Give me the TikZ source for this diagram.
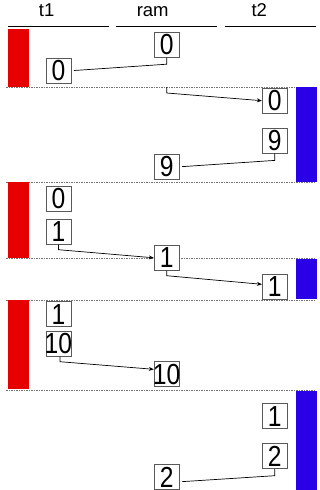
\documentclass[tikz,border=0pt]{standalone}
\usepackage{fontspec}
\setmainfont{Liberation Sans}
\usetikzlibrary{arrows.meta}
\definecolor{tred}{RGB}{230,0,0}
\definecolor{tblue}{RGB}{42,0,230}
\tikzset{
  box/.style={draw=black!65, line width=0.8pt, minimum width=25pt, minimum height=25pt,
    inner sep=0pt, fill=white, font=\fontsize{29}{29}\selectfont},
  head/.style={anchor=base, inner sep=0pt, font=\fontsize{18.5}{18.5}\selectfont},
  hline/.style={line width=1pt, black},
  sep/.style={draw=black!55, line width=0.5pt, dash pattern=on 1.5pt off 1pt},
  conn/.style={line width=0.7pt, black},
  arr/.style={conn, -{Stealth[length=5pt,width=4pt]}},
  back/.style={conn, shorten >=2.5pt},
}
\newcommand{\bx}[1]{\makebox[0pt][c]{\raisebox{-1.2pt}{\scalebox{0.85}[1]{#1}}}}
\begin{document}
\begin{tikzpicture}[x=1pt,y=-1pt]
\useasboundingbox (0,0) rectangle (320,490);
% headers
\node[head] (ht1) at (46.7,16.7) {t1};
\node[head] (hram) at (152.7,16.7) {ram};
\node[head] (ht2) at (259.3,16.7) {t2};
\draw[hline] (8.3,26) -- (109,26);
\draw[hline] (116.3,26) -- (217,26);
\draw[hline] (225,26) -- (316,26);
% separators
\foreach \y in {87,182,258.5,300.3,390.3} \draw[sep] (6,\y) -- (315,\y);
% bars
\fill[tred] (8,29) rectangle (29,87);
\fill[tred] (8,182) rectangle (29,258);
\fill[tred] (8,300) rectangle (29,389);
\fill[tblue] (296,87) rectangle (316.5,181.5);
\fill[tblue] (296,259) rectangle (316.5,299);
\fill[tblue] (296,390.5) rectangle (316.5,490);
% boxes
\node[box] (a0ram) at (166.7,44.8) {\bx{0}};
\node[box] (a0t1) at (58.4,70.7) {\bx{0}};
\node[box] (b0t2) at (274.8,100.7) {\bx{0}};
\node[box] (b9t2) at (274.8,140.5) {\bx{9}};
\node[box] (b9ram) at (166.7,166.8) {\bx{9}};
\node[box] (c0t1) at (58.4,199) {\bx{0}};
\node[box] (c1t1) at (58.4,231.8) {\bx{1}};
\node[box] (c1ram) at (166.7,257.8) {\bx{1}};
\node[box] (d1t2) at (274.8,286.8) {\bx{1}};
\node[box] (e1t1) at (58.4,314.2) {\bx{1}};
\node[box] (e10t1) at (58.4,343.8) {\bx{10}};
\node[box] (e10ram) at (166.7,374.3) {\bx{10}};
\node[box] (f1t2) at (274.8,416.2) {\bx{1}};
\node[box] (f2t2) at (274.8,456.3) {\bx{2}};
\node[box] (f2ram) at (166.7,477.3) {\bx{2}};
% connectors
\coordinate (s2) at (166.7,87);
\draw[back] (a0ram.south) -- ++(0,6.5) -- (a0t1.east);
\draw[arr] (s2) -- ++(0,6) -- (b0t2.west);
\draw[back] (b9t2.south) -- ++(0,7) -- (b9ram.east);
\draw[arr] (c1t1.south) -- ++(0,5) -- (c1ram.west);
\draw[arr] (c1ram.south) -- ++(0,5) -- ([yshift=2.5pt]d1t2.west);
\draw[arr] ([xshift=1.5pt]e10t1.south) -- ++(0,5) -- ([yshift=5pt]e10ram.west);
\draw[back] (f2t2.south) -- ++(0,6.5) -- ([yshift=-4.5pt]f2ram.east);
\end{tikzpicture}
\end{document}
